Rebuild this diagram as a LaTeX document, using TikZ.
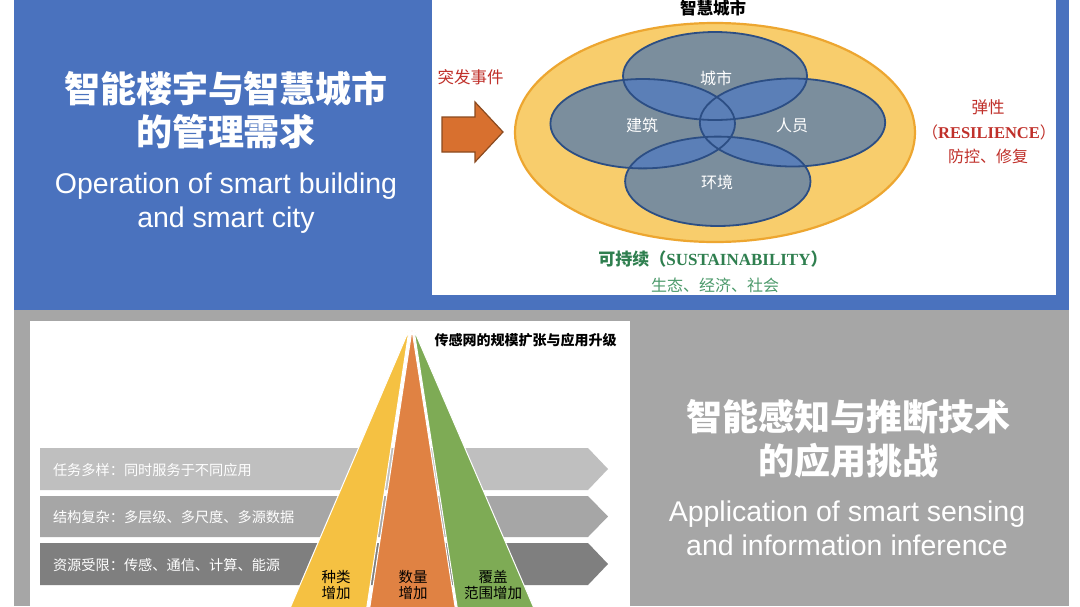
\documentclass[tikz,border=0pt]{standalone}
\usepackage{fontspec}
\setmainfont{Liberation Sans}
\newfontfamily\cjk{Noto Sans CJK SC}
\newfontfamily\tnr{Liberation Serif}
\definecolor{topblue}{HTML}{4A72BE}
\definecolor{panelgray}{HTML}{A6A6A6}
\definecolor{chevA}{HTML}{BFBFBF}
\definecolor{chevB}{HTML}{A6A6A6}
\definecolor{chevC}{HTML}{7F7F7F}
\definecolor{fanY}{HTML}{F5C142}
\definecolor{fanO}{HTML}{E08243}
\definecolor{fanG}{HTML}{7EAB55}
\definecolor{ellY}{HTML}{F8CD6C}
\definecolor{ellYb}{HTML}{EDA630}
\definecolor{ellIn}{HTML}{7B8E9D}
\definecolor{ellOv}{HTML}{5B7FB7}
\definecolor{ellB}{HTML}{2C4E84}
\definecolor{redtxt}{HTML}{C0302A}
\definecolor{grntxt}{HTML}{2F7F4F}
\definecolor{grnsub}{HTML}{4C9A6B}
\definecolor{arrowfill}{HTML}{D8702F}
\definecolor{arrowdraw}{HTML}{8B4A1F}
\begin{document}
\begin{tikzpicture}[x=1pt,y=-1pt,
  every node/.style={inner sep=0pt, outer sep=0pt},
  bigcn/.style={text=white, align=center, font={\cjk\bfseries\fontsize{36}{43.5}\selectfont}},
  bigen/.style={text=white, align=center, font={\fontsize{28.5}{34.2}\selectfont}},
  redcn/.style={text=redtxt, font={\cjk\fontsize{16.5}{18}\selectfont}},
  elllabel/.style={text=white, font={\cjk\fontsize{16}{18}\selectfont}},
  chevtext/.style={text=white, anchor=west, font={\cjk\fontsize{14.2}{16}\selectfont}},
  fanlabel/.style={text=black, align=center, font={\cjk\fontsize{14.5}{16}\selectfont}},
  innerell/.style={draw=ellB, line width=1.8pt}
]
\useasboundingbox (0,0) rectangle (1080,606);
\fill[white] (0,0) rectangle (1080,606);
% panels
\fill[topblue] (14,0) rectangle (1069,310);
\fill[white] (432,0) rectangle (1056,295);
\fill[panelgray] (14,310) rectangle (1069,606);
\fill[white] (30,321) rectangle (630,606);

% top-left titles
\node[bigcn] (tlcn) at (226,110) {智能楼宇与智慧城市\\的管理需求};
\node[bigen] (tlen) at (226,203) {Operation of smart building\\and smart city};

% event arrow
\draw[fill=arrowfill, draw=arrowdraw, line width=1.2pt, line join=miter]
  (442,117) -- (475,117) -- (475,102) -- (503,132) -- (475,162) -- (475,152) -- (442,152) -- cycle;
\node[redcn] (event) at (470.5,77) {突发事件};

% big yellow ellipse
\draw[fill=ellY, draw=ellYb, line width=2.2pt] (715,132.5) ellipse [x radius=200, y radius=109.5];
% inner ellipses fill
\fill[ellIn] (715,76) ellipse [x radius=92, y radius=44];
\fill[ellIn] (642.7,123.7) ellipse [x radius=92.3, y radius=44.7];
\fill[ellIn] (792.5,122.5) ellipse [x radius=92.7, y radius=44];
\fill[ellIn] (717.8,181.3) ellipse [x radius=92.7, y radius=44.7];
% overlaps
\begin{scope}\clip (715,76) ellipse [x radius=92, y radius=44];
  \fill[ellOv] (642.7,123.7) ellipse [x radius=92.3, y radius=44.7];
  \fill[ellOv] (792.5,122.5) ellipse [x radius=92.7, y radius=44];
\end{scope}
\begin{scope}\clip (717.8,181.3) ellipse [x radius=92.7, y radius=44.7];
  \fill[ellOv] (642.7,123.7) ellipse [x radius=92.3, y radius=44.7];
  \fill[ellOv] (792.5,122.5) ellipse [x radius=92.7, y radius=44];
\end{scope}
\begin{scope}\clip (642.7,123.7) ellipse [x radius=92.3, y radius=44.7];
  \fill[ellOv] (792.5,122.5) ellipse [x radius=92.7, y radius=44];
\end{scope}
% borders
\draw[innerell] (715,76) ellipse [x radius=92, y radius=44];
\draw[innerell] (642.7,123.7) ellipse [x radius=92.3, y radius=44.7];
\draw[innerell] (792.5,122.5) ellipse [x radius=92.7, y radius=44];
\draw[innerell] (717.8,181.3) ellipse [x radius=92.7, y radius=44.7];

\node[elllabel] (city) at (716,78) {城市};
\node[elllabel] (bld) at (642,125) {建筑};
\node[elllabel] (ppl) at (792,125) {人员};
\node[elllabel] (env) at (717,182.5) {环境};

\node[text=black, font={\cjk\bfseries\fontsize{16.5}{18}\selectfont}] (sctitle) at (713,8) {智慧城市};

\node[redcn] (res1) at (988,107) {弹性};
\node[text=redtxt, font={\fontsize{16}{18}\selectfont}] (res2) at (989,132.5) {{\cjk （}{\tnr\bfseries\fontsize{16.5}{18}\selectfont RESILIENCE}{\cjk ）}};
\node[text=redtxt, font={\cjk\fontsize{16}{18}\selectfont}] (res3) at (988,156) {防控、修复};

\node[text=grntxt, font={\fontsize{17}{18}\selectfont}] (sus1) at (713,259) {{\cjk\bfseries 可持续（}{\tnr\bfseries SUSTAINABILITY}{\cjk\bfseries ）}};
\node[text=grnsub, font={\cjk\fontsize{16}{18}\selectfont}] (sus2) at (715,285) {生态、经济、社会};

% bottom-right titles
\node[bigcn] (brcn) at (848,439) {智能感知与推断技术\\的应用挑战};
\node[bigen] (bren) at (847,528) {Application of smart sensing\\and information inference};

% chevrons
\fill[chevA] (40,448) -- (588,448) -- (608,469) -- (588,490) -- (40,490) -- cycle;
\fill[chevB] (40,496) -- (588,496) -- (608,516.5) -- (588,537) -- (40,537) -- cycle;
\fill[chevC] (40,543) -- (588,543) -- (608,564) -- (588,585) -- (40,585) -- cycle;
\node[chevtext] (c1) at (53,470) {任务多样：同时服务于不同应用};
\node[chevtext] (c2) at (53,517) {结构复杂：多层级、多尺度、多源数据};
\node[chevtext] (c3) at (53,565) {资源受限：传感、通信、计算、能源};

% fan
\fill[fanY, draw=white, line width=1pt, line join=miter] (409,330) -- (288.4,612) -- (366.1,612) -- cycle;
\fill[fanO, draw=white, line width=1pt, line join=miter] (412,330) -- (369.1,612) -- (455.9,612) -- cycle;
\fill[fanG, draw=white, line width=1pt, line join=miter] (414,330) -- (457.9,612) -- (535.6,612) -- cycle;
\node[fanlabel] (f1) at (336,585) {种类\\增加};
\node[fanlabel] (f2) at (413,585) {数量\\增加};
\node[fanlabel] (f3) at (493,585) {覆盖\\范围增加};
\node[text=black, font={\cjk\bfseries\fontsize{14}{16}\selectfont}] (fantitle) at (525.5,340) {传感网的规模扩张与应用升级};
\end{tikzpicture}
\end{document}
